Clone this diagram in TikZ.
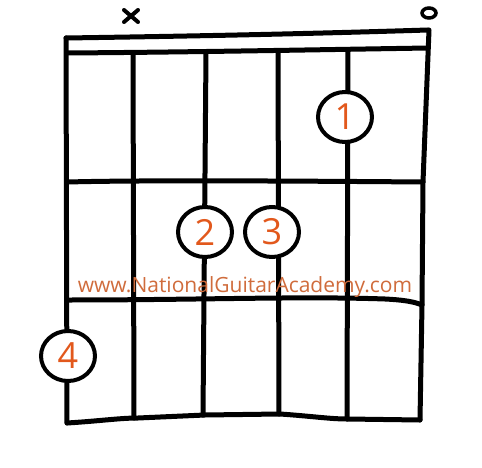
\documentclass[tikz,border=0pt]{standalone}
\usepackage{fontspec}
\setmainfont{Open Sans}
\usetikzlibrary{calc,shapes.geometric}
\definecolor{numorange}{RGB}{226,88,28}
\definecolor{urlorange}{RGB}{208,108,60}
\begin{document}
\begin{tikzpicture}[x=1pt,y=-1pt,
  ink/.style={line width=5pt,line cap=round,line join=round,black},
  finger/.style={draw=black,line width=4pt,fill=white,ellipse,minimum width=54pt,minimum height=50pt,inner sep=0pt,font=\fontsize{36}{36}\selectfont,text=numorange},
  ]
\useasboundingbox[fill=white] (0,0) rectangle (482,468);
% nut
\draw[ink] (66,38) .. controls (200,36) and (300,34) .. (428,30);
\draw[ink] (68,53) .. controls (200,52) and (300,50) .. (428,48);
% frame sides
\draw[ink] (66,38) -- (67,423);
\draw[ink] (429,30) -- (423,182) -- (422,305) -- (420,420);
% bottom edge
\draw[ink] (67,423) .. controls (100,421) and (120,418) .. (138,418) -- (205,415) -- (280,414) .. controls (310,416) and (330,419) .. (347,419) -- (420,420);
% strings
\draw[ink] (133,53) -- (134,418);
\draw[ink] (206,52) -- (203,415);
\draw[ink] (278,51) -- (279,414);
\draw[ink] (348,50) -- (347,419);
% frets
\draw[ink] (68,182) .. controls (140,180) and (300,181) .. (423,182);
\draw[ink] (68,300) .. controls (200,300) and (300,296) .. (385,299) .. controls (405,300) and (415,302) .. (422,305);
% muted / open markers
\node[inner sep=0pt] (mute) at (131,16) {};
\draw[line width=4pt,line cap=round] ($(mute)+(-7,-6)$) -- ($(mute)+(7,6)$);
\draw[line width=4pt,line cap=round] ($(mute)+(-7,6)$) -- ($(mute)+(7,-6)$);
\draw[line width=3.5pt] (429,13) ellipse (7pt and 5pt);
% url
\node[text=urlorange,font=\fontsize{21}{21}\selectfont,inner sep=0pt] (url) at (245,287) {www.NationalGuitarAcademy.com};
% fingers
\node[finger] (f1) at (345,117) {1};
\node[finger] (f2) at (205,232) {2};
\node[finger] (f3) at (272,232) {3};
\node[finger] (f4) at (68,356) {4};
\end{tikzpicture}
\end{document}
